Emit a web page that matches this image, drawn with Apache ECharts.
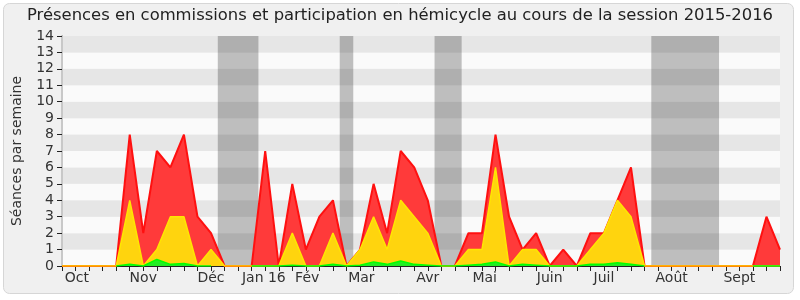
<!DOCTYPE html>
<html><head><meta charset="utf-8">
<script src="https://cdn.jsdelivr.net/npm/echarts@6/dist/echarts.min.js"></script>
<style>html,body{margin:0;padding:0;background:#fff}#c{width:800px;height:300px}</style>
</head><body><div id="c"></div>
<script>
// week index 0..53 (one point per week of the session)
const weeks = [0,1,2,3,4,5,6,7,8,9,10,11,12,13,14,15,16,17,18,19,20,21,22,23,24,25,26,27,28,29,30,31,32,33,34,35,36,37,38,39,40,41,42,43,44,45,46,47,48,49,50,51,52,53];
// red: total sessions per week
const totalSessions = [0,0,0,0,0,8,2,7,6,8,3,2,0,0,0,7,0,5,1,3,4,0,1,5,2,7,6,4,0,0,2,2,8,3,1,2,0,1,0,2,2,4,6,0,0,0,0,0,0,0,0,0,3,1];
// yellow: committee presences
const committeeSessions = [0,0,0,0,0,4,0,1,3,3,0,1,0,0,0,0,0,2,0,0,2,0,1,3,1,4,3,2,0,0,1,1,6,0,1,1,0,0,0,1,2,4,3,0,0,0,0,0,0,0,0,0,0,0];
// green: hemicycle participation
const hemicycleSessions = [null,null,null,null,0,0.1,0,0.4,0.1,0.15,0,0,null,null,0,0,0,0.05,0,0,0.1,0,0.05,0.25,0.1,0.3,0.1,0.05,0,0,0.05,0.1,0.25,0,0.1,0.05,0,0,0,0.1,0.1,0.2,0.1,0,null,null,null,null,null,null,null,0,0,0];
const monthLabels = ['Oct','Nov','Déc','Jan 16','Fév','Mar','Avr','Mai','Juin','Juil','Août','Sept'];
const monthPositions = [1.1,6.0,11.0,14.9,18.1,22.1,27.0,31.2,36.0,40.0,45.0,50.0];
const holidays = [[11.5,14.5],[20.5,21.5],[27.5,29.5],[43.5,48.5]];

const font = 'DejaVu Sans';
const chart = echarts.init(document.getElementById('c'), null, {renderer:'canvas'});
const pairs = arr => weeks.map((w,i)=>[w, arr[i]]);
chart.setOption({
  animation:false,
  backgroundColor:'transparent',
  graphic:[{type:'rect', silent:true, z:-10, shape:{x:3.5,y:3.5,width:790,height:290,r:6},
            style:{fill:'#f0f0f0', stroke:'#d6d6d6', lineWidth:1}}],
  title:{text:'Présences en commissions et participation en hémicycle au cours de la session 2015-2016',
         left:'center', top:3, textStyle:{fontFamily:font,fontSize:16.4,fontWeight:'normal',color:'#222'}},
  grid:{left:62,right:20,top:36,bottom:34},
  xAxis:[{type:'value',min:0,max:53,
          axisLine:{show:true,onZero:false,lineStyle:{color:'#222',width:1}},
          axisTick:{show:true,customValues:weeks,length:5,lineStyle:{color:'#222'}},
          axisLabel:{customValues:monthPositions,formatter:v=>monthLabels[monthPositions.indexOf(v)],
                     fontFamily:font,fontSize:14,color:'#333',margin:5},
          splitLine:{show:false}},
         {type:'value',position:'top',min:0,max:53,
          axisLine:{show:false},
          axisTick:{show:true,customValues:weeks,inside:true,length:2,lineStyle:{color:'#222'}},
          axisLabel:{show:false},splitLine:{show:false}}],
  yAxis:[{type:'value',min:0,max:14,interval:1,
          name:'Séances par semaine',nameLocation:'middle',nameGap:38,
          nameTextStyle:{fontFamily:font,fontSize:14,color:'#333'},
          axisLine:{show:true,lineStyle:{color:'#222'}},
          axisTick:{show:true,length:5,lineStyle:{color:'#222'}},
          axisLabel:{fontFamily:font,fontSize:14,color:'#333',margin:8},
          splitLine:{show:false},
          splitArea:{show:true,areaStyle:{color:['#fafafa','#e6e6e6']}}},
         {type:'value',position:'right',min:0,max:14,interval:1,
          axisLine:{show:true,lineStyle:{color:'#c8c8c8',width:2}},
          axisTick:{show:false},axisLabel:{show:false},splitLine:{show:false}}],
  series:[
    {type:'line',name:'total',data:pairs(totalSessions),symbol:'none',z:2,
     lineStyle:{color:'#ff1010',width:2},areaStyle:{color:'#ff3a3a',opacity:1}},
    {type:'line',name:'commissions',data:pairs(committeeSessions),symbol:'none',z:3,
     lineStyle:{color:'#ffe600',width:1.5},areaStyle:{color:'#ffd40e',opacity:1}},
    {type:'line',name:'hemicycle',data:pairs(hemicycleSessions),symbol:'none',z:4,
     lineStyle:{color:'#00ff00',width:1.5},areaStyle:{color:'#22ee22',opacity:1}},
    {type:'line',name:'vacances',data:[],z:5,
     markArea:{silent:true,itemStyle:{color:'rgba(0,0,0,0.24)'},
               data:holidays.map(h=>[{xAxis:h[0]},{xAxis:h[1]}])}}
  ]
});
</script></body></html>
